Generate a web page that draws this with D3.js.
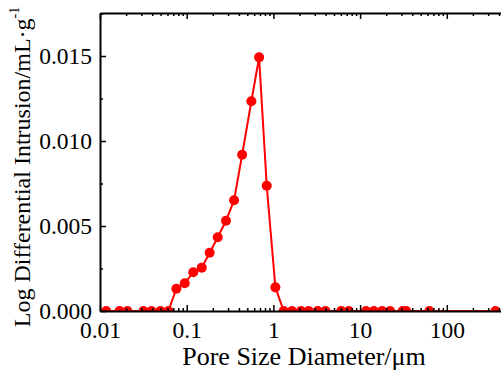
<!DOCTYPE html>
<html>
<head>
<meta charset="utf-8">
<script src="https://cdn.jsdelivr.net/npm/d3@7"></script>
<style>
  body { margin: 0; background: #fff; }
  svg { display: block; }
</style>
</head>
<body>
<svg id="chart" width="501" height="370"></svg>
<script>
// pore size diameter (um) and log differential intrusion (mL/g)
const diameters = [
  0.0118, 0.0168, 0.0207, 0.0317, 0.0392, 0.0497, 0.0615,
  0.076, 0.0949, 0.119, 0.149, 0.184, 0.228, 0.284, 0.352,
  0.436, 0.557, 0.684, 0.838, 1.054,
  1.315, 1.64, 2.08, 2.55, 3.24, 3.98, 6.04, 7.39,
  11.7, 14.4, 17.9, 22.2, 31.0, 34.0, 62.9, 364
];
const intrusion = [
  0, 0, 0, 0, 0, 0, 0,
  0.00131, 0.00163, 0.00228, 0.00255, 0.00343, 0.00434, 0.00531, 0.00651,
  0.00919, 0.01234, 0.01492, 0.00737, 0.00139,
  0, 0, 0, 0, 0, 0, 0, 0,
  0, 0, 0, 0, 0, 0, 0, 0
];
const xTickValues = [0.01, 0.1, 1, 10, 100];
const xTickLabels = ['0.01', '0.1', '1', '10', '100'];
const yTickValues = [0, 0.005, 0.010, 0.015];

const serif = 'Liberation Serif';
const svg = d3.select('#chart');
const mLeft = 100, mTop = 13, mBottom = 311;

const x = d3.scaleLog().domain([0.01, 500]).range([mLeft, mLeft + 86.7 * Math.log10(50000)]);
const y = d3.scaleLinear().domain([0, 0.01753]).range([mBottom, mTop]);
const mRight = x.range()[1];

const data = diameters.map((d, i) => ({ d: d, v: intrusion[i] }));

// clip to plot area
svg.append('defs').append('clipPath').attr('id', 'plot')
  .append('rect').attr('x', mLeft).attr('y', mTop)
  .attr('width', mRight - mLeft).attr('height', mBottom - mTop);

const plot = svg.append('g').attr('clip-path', 'url(#plot)');

const line = d3.line().x(p => x(p.d)).y(p => y(p.v));
plot.append('path')
  .datum(data)
  .attr('d', line)
  .attr('fill', 'none')
  .attr('stroke', '#ff0000')
  .attr('stroke-width', 2);

plot.selectAll('circle')
  .data(data)
  .enter()
  .append('circle')
  .attr('cx', p => x(p.d))
  .attr('cy', p => y(p.v))
  .attr('r', 5)
  .attr('fill', '#ff0000');

// minor tick values for the log axis
const xMinor = [];
for (let e = -2; e <= 2; e++) {
  for (let m = 2; m <= 9; m++) {
    const v = m * Math.pow(10, e);
    if (v <= 500) xMinor.push(v);
  }
}
const yMinor = [0.0025, 0.0075, 0.0125, 0.0175];

// bottom axis
svg.append('g').attr('transform', `translate(0,${mBottom})`)
  .call(d3.axisBottom(x).tickValues(xTickValues)
    .tickFormat((d, i) => xTickLabels[i]).tickSizeInner(-6).tickSizeOuter(0).tickPadding(10));
svg.append('g').attr('transform', `translate(0,${mBottom})`)
  .call(d3.axisBottom(x).tickValues(xMinor).tickFormat('').tickSizeInner(-3).tickSizeOuter(0))
  .select('.domain').remove();

// top axis
svg.append('g').attr('transform', `translate(0,${mTop})`)
  .call(d3.axisTop(x).tickValues(xTickValues).tickFormat('').tickSizeInner(-6).tickSizeOuter(0));
svg.append('g').attr('transform', `translate(0,${mTop})`)
  .call(d3.axisTop(x).tickValues(xMinor).tickFormat('').tickSizeInner(-3).tickSizeOuter(0))
  .select('.domain').remove();

// left axis
svg.append('g').attr('transform', `translate(${mLeft},0)`)
  .call(d3.axisLeft(y).tickValues(yTickValues).tickFormat(d3.format('.3f'))
    .tickSizeInner(-6).tickSizeOuter(0).tickPadding(8));
svg.append('g').attr('transform', `translate(${mLeft},0)`)
  .call(d3.axisLeft(y).tickValues(yMinor).tickFormat('').tickSizeInner(-3).tickSizeOuter(0))
  .select('.domain').remove();

svg.selectAll('.domain').attr('stroke', '#000').attr('stroke-width', 2);
svg.selectAll('.tick line').attr('stroke', '#000').attr('stroke-width', 1.5);
svg.selectAll('g').attr('font-family', serif).attr('font-size', 23.5);
svg.selectAll('.tick text').attr('fill', '#000');

// axis titles
svg.append('text')
  .attr('x', 304).attr('y', 365)
  .attr('text-anchor', 'middle')
  .attr('font-family', serif)
  .attr('font-size', 26)
  .text('Pore Size Diameter/\u03bcm');

const yt = svg.append('text')
  .attr('transform', 'translate(30,167) rotate(-90)')
  .attr('text-anchor', 'middle')
  .attr('font-family', serif)
  .attr('font-size', 24);
yt.append('tspan').text('Log Differential Intrusion/mL\u00b7g');
yt.append('tspan').attr('dy', -11).attr('font-size', 14).text('-1');
</script>
</body>
</html>
